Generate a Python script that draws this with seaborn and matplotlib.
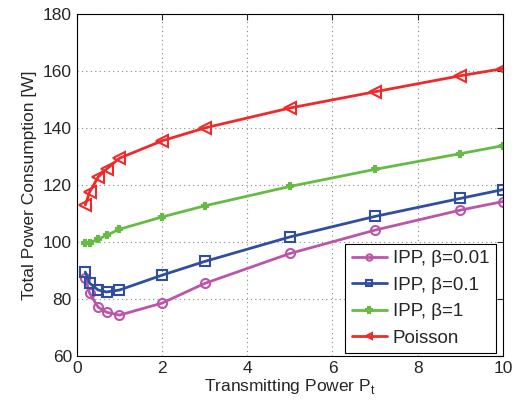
import matplotlib
matplotlib.use("Agg")
import matplotlib.pyplot as plt
import seaborn as sns
import pandas as pd

x_vals = [0.2, 0.3, 0.5, 0.7, 1, 2, 3, 5, 7, 9, 10]
ipp_001 = [87.4, 82.1, 77.2, 75.4, 74.4, 78.6, 85.5, 96.0, 104.2, 111.2, 114.2]
ipp_01 = [89.5, 85.6, 83.2, 82.5, 83.2, 88.4, 93.2, 101.8, 109.0, 115.3, 118.4]
ipp_1 = [99.6, 99.8, 101.0, 102.4, 104.5, 108.8, 112.7, 119.5, 125.5, 131.0, 133.8]
poisson = [113.0, 117.5, 122.8, 125.6, 129.4, 135.5, 140.0, 147.0, 152.7, 158.3, 160.8]
labels = ["IPP, \u03b2=0.01", "IPP, \u03b2=0.1", "IPP, \u03b2=1", "Poisson"]

sns.set_style("white")
plt.rcParams['font.family'] = ['Liberation Sans', 'DejaVu Sans']

fig = plt.figure(figsize=(5.19, 4.08), dpi=100)
ax = fig.add_axes([0.148, 0.127, 0.821, 0.839])

series = [ipp_001, ipp_01, ipp_1, poisson]
colors = ["#bb55aa", "#2f4ea2", "#66bb44", "#ee2a2a"]
markers = ["o", "s", "P", "<"]
msizes = [6.5, 6.5, 5, 8.5]
for lab, ys, c, m, ms in zip(labels, series, colors, markers, msizes):
    df = pd.DataFrame({"x": x_vals, "y": ys})
    sns.lineplot(data=df, x="x", y="y", ax=ax, color=c, marker=m, markersize=ms,
                 markerfacecolor="none" if m != "P" else c, markeredgecolor=c,
                 markeredgewidth=1.5, linewidth=2, label=lab)

ax.set_xlim(0, 10)
ax.set_ylim(60, 180)
ax.set_xticks(range(0, 11, 2))
ax.set_yticks(range(60, 181, 20))
ax.grid(True, linestyle=(0, (1, 3)), color="#888888", linewidth=0.8)
ax.tick_params(direction="in", labelsize=12.5, length=4, top=True, right=True)
for s in ax.spines.values():
    s.set_color("black")
    s.set_linewidth(0.8)
ax.set_xlabel("Transmitting Power P$_\\mathregular{t}$", fontsize=12.5, labelpad=1)
ax.set_ylabel("Total Power Consumption [W]", fontsize=12.5, labelpad=4)
leg = ax.legend(loc="lower right", fontsize=13.5, frameon=True, fancybox=False,
                edgecolor="black", framealpha=1, borderpad=0.35, handlelength=1.9,
                handletextpad=0.3, labelspacing=0.5, borderaxespad=0.15,
                bbox_to_anchor=(0.99, 0.0))
leg.get_frame().set_linewidth(0.8)
for h in leg.legend_handles:
    h.set_markersize(4.5)
fig.savefig("out.png", dpi=100)
